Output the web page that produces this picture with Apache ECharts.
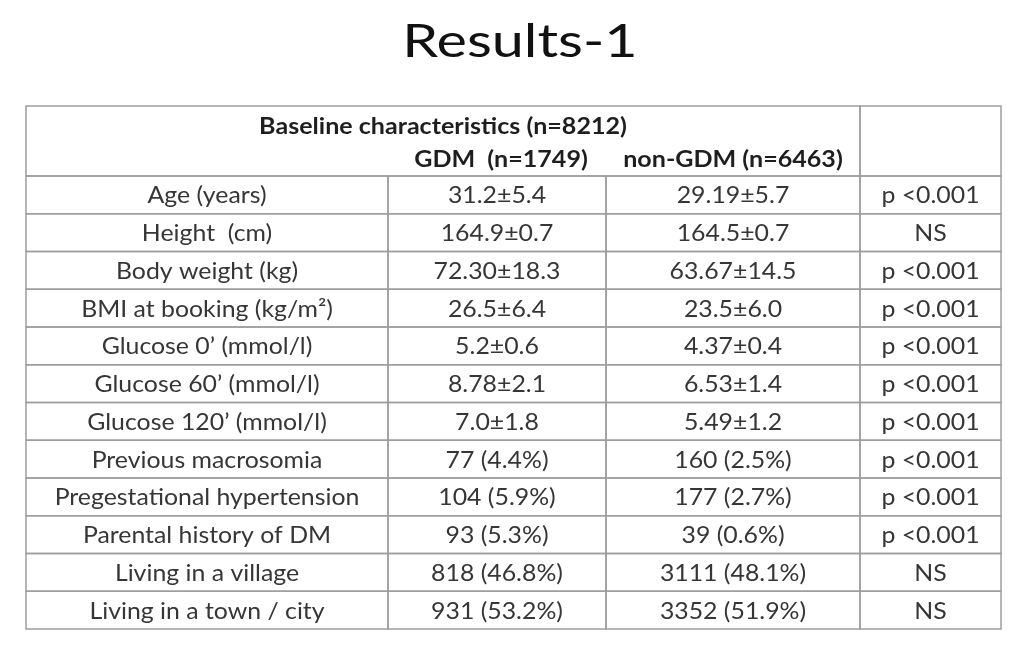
<!DOCTYPE html>
<html>
<head>
<meta charset="utf-8">
<script src="https://cdn.jsdelivr.net/npm/echarts@6/dist/echarts.min.js"></script>
<style>
  html, body { margin: 0; padding: 0; background: #ffffff; }
  #chart { width: 1023px; height: 646px; }
</style>
</head>
<body>
<div id="chart"></div>
<script>
// table content
const title = 'Results-1';
const headerLine1 = 'Baseline characteristics (n=8212)';
const groupLabels = ['GDM  (n=1749)', 'non-GDM (n=6463)'];
const rowLabels = [
  'Age (years)',
  'Height  (cm)',
  'Body weight (kg)',
  'BMI at booking (kg/m²)',
  'Glucose 0’ (mmol/l)',
  'Glucose 60’ (mmol/l)',
  'Glucose 120’ (mmol/l)',
  'Previous macrosomia',
  'Pregestational hypertension',
  'Parental history of DM',
  'Living in a village',
  'Living in a town / city'
];
const gdmValues = [
  '31.2±5.4', '164.9±0.7', '72.30±18.3', '26.5±6.4', '5.2±0.6', '8.78±2.1',
  '7.0±1.8', '77 (4.4%)', '104 (5.9%)', '93 (5.3%)', '818 (46.8%)', '931 (53.2%)'
];
const nonGdmValues = [
  '29.19±5.7', '164.5±0.7', '63.67±14.5', '23.5±6.0', '4.37±0.4', '6.53±1.4',
  '5.49±1.2', '160 (2.5%)', '177 (2.7%)', '39 (0.6%)', '3111 (48.1%)', '3352 (51.9%)'
];
const pValues = [
  'p <0.001', 'NS', 'p <0.001', 'p <0.001', 'p <0.001', 'p <0.001',
  'p <0.001', 'p <0.001', 'p <0.001', 'p <0.001', 'NS', 'NS'
];

// layout (axis units = px inside the grid)
const colEdges = [0, 362, 580, 834, 975];
const headerHeight = 70;
const rowHeight = 37.75;
const tableHeight = headerHeight + rowHeight * rowLabels.length;
const FONT = 'Lato, "Open Sans", sans-serif';

// build cells
const cells = [];
// merged header over first three columns + empty p column header
cells.push({ x0: colEdges[0], x1: colEdges[3], y0: 0, y1: headerHeight, border: true });
cells.push({ x0: colEdges[3], x1: colEdges[4], y0: 0, y1: headerHeight, border: true });
cells.push({ x0: colEdges[0], x1: colEdges[3], y0: 0, y1: 39, text: headerLine1, bold: true });
cells.push({ x0: colEdges[1] + 4, x1: colEdges[2] + 4, y0: 38, y1: 67, text: groupLabels[0], bold: true });
cells.push({ x0: colEdges[2], x1: colEdges[3], y0: 38, y1: 67, text: groupLabels[1], bold: true });

const columns = [rowLabels, gdmValues, nonGdmValues, pValues];
rowLabels.forEach((_, r) => {
  const y0 = headerHeight + r * rowHeight;
  columns.forEach((col, c) => {
    cells.push({ x0: colEdges[c], x1: colEdges[c + 1], y0: y0, y1: y0 + rowHeight, text: col[r], border: true });
  });
});

const chart = echarts.init(document.getElementById('chart'));
chart.setOption({
  backgroundColor: '#ffffff',
  animation: false,
  graphic: [{
    type: 'text',
    x: 520,
    y: 42,
    scaleX: 1.25,
    style: {
      text: title,
      align: 'center',
      verticalAlign: 'middle',
      fontFamily: FONT,
      fontSize: 46,
      fill: '#111111'
    }
  }],
  grid: { left: 26, right: 22, top: 106, bottom: 17 },
  xAxis: { type: 'value', min: 0, max: colEdges[colEdges.length - 1], show: false },
  yAxis: { type: 'value', min: 0, max: tableHeight, inverse: true, show: false },
  series: [{
    type: 'custom',
    coordinateSystem: 'cartesian2d',
    data: cells.map((c, i) => [c.x0, c.y0, i]),
    renderItem: function (params, api) {
      const cell = cells[params.dataIndex];
      const p0 = api.coord([cell.x0, cell.y0]);
      const p1 = api.coord([cell.x1, cell.y1]);
      const children = [];
      if (cell.border) {
        children.push({
          type: 'rect',
          shape: { x: p0[0], y: p0[1], width: p1[0] - p0[0], height: p1[1] - p0[1] },
          style: { fill: null, stroke: '#9e9e9e', lineWidth: 1.5 }
        });
      }
      if (cell.text) {
        children.push({
          type: 'text',
          x: (p0[0] + p1[0]) / 2,
          y: (p0[1] + p1[1]) / 2 + 1,
          scaleX: cell.bold ? 1.09 : 1.08,
          style: {
            x: 0,
            y: 0,
            text: cell.text,
            align: 'center',
            verticalAlign: 'middle',
            fontFamily: FONT,
            fontSize: 23,
            fontWeight: cell.bold ? 'bold' : 'normal',
            fill: cell.bold ? '#1e1e1e' : '#363636'
          }
        });
      }
      return { type: 'group', children: children };
    }
  }]
});
</script>
</body>
</html>
